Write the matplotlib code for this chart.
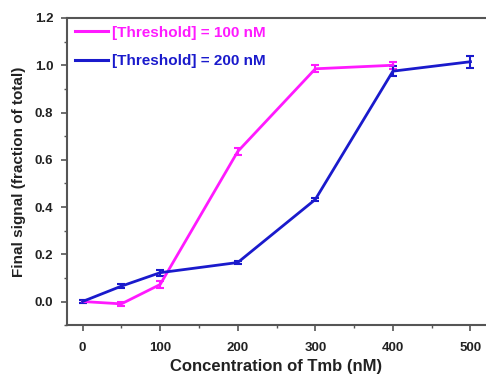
import numpy as np
import matplotlib.pyplot as plt
from matplotlib.ticker import MultipleLocator
from matplotlib.lines import Line2D

plt.rcParams['font.family'] = ['Liberation Sans', 'DejaVu Sans']
plt.rcParams['font.weight'] = 'bold'

conc_100 = [0, 50, 100, 200, 300, 400]
signal_100 = [0.0, -0.01, 0.072, 0.635, 0.985, 1.0]
err_100 = [0.005, 0.008, 0.015, 0.015, 0.015, 0.015]

conc_200 = [0, 50, 100, 200, 300, 400, 500]
signal_200 = [0.0, 0.065, 0.122, 0.165, 0.432, 0.975, 1.015]
err_200 = [0.005, 0.008, 0.012, 0.008, 0.008, 0.02, 0.025]

labels = ['[Threshold] = 100 nM', '[Threshold] = 200 nM']
colors = ['#ff1aff', '#1a1acc']

fig = plt.figure(figsize=(4.86, 3.75), dpi=100)
ax = fig.add_axes([0.138, 0.133, 0.862, 0.819])

ax.errorbar(conc_100, signal_100, yerr=err_100, color=colors[0], lw=2,
            capsize=3, capthick=1.5, elinewidth=1.5)
ax.errorbar(conc_200, signal_200, yerr=err_200, color=colors[1], lw=2,
            capsize=3, capthick=1.5, elinewidth=1.5)

ax.set_xlim(-20, 520)
ax.set_ylim(-0.1, 1.2)
ax.xaxis.set_major_locator(MultipleLocator(100))
ax.xaxis.set_minor_locator(MultipleLocator(50))
ax.yaxis.set_major_locator(MultipleLocator(0.2))
ax.yaxis.set_minor_locator(MultipleLocator(0.1))
ax.yaxis.set_major_formatter(plt.FormatStrFormatter('%.1f'))

for s in ['left', 'bottom', 'top']:
    ax.spines[s].set_color('#555555')
    ax.spines[s].set_linewidth(1.5)
ax.spines['right'].set_visible(False)
ax.tick_params(which='both', direction='out', colors='#555555', labelcolor='#222222')
ax.tick_params(which='major', length=4, width=1.2, labelsize=9.5)
ax.tick_params(axis='x', which='major', pad=8)
ax.tick_params(axis='y', which='major', pad=6)
ax.tick_params(which='minor', length=2.5, width=1.0)

ax.set_xlabel('Concentration of Tmb (nM)', fontsize=12, fontweight='bold', color='#222222', labelpad=4)
ax.set_ylabel('Final signal (fraction of total)', fontsize=11, fontweight='bold', color='#222222', labelpad=6)

handles = [Line2D([], [], color=c, lw=2.2) for c in colors]
leg = ax.legend(handles, labels, loc='upper left', frameon=False, fontsize=11,
                handlelength=2.2, handletextpad=0.25, labelspacing=0.95,
                borderaxespad=0.1, bbox_to_anchor=(0.0, 1.0))
for txt, c in zip(leg.get_texts(), colors):
    txt.set_color(c)

fig.savefig('out.png', dpi=100)
